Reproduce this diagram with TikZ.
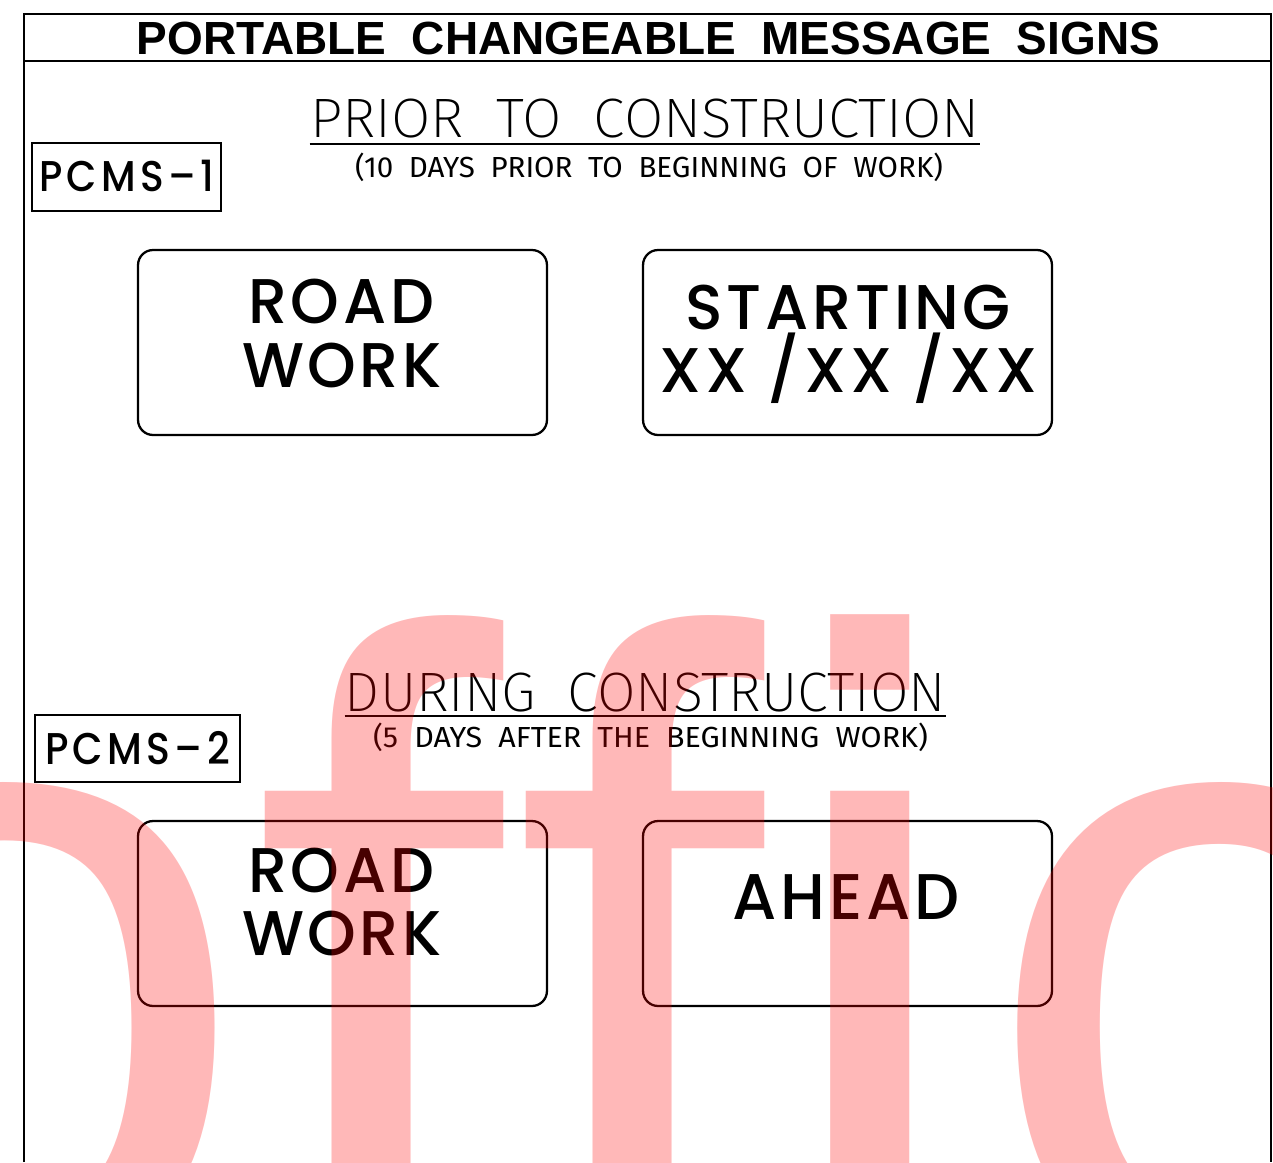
\documentclass[tikz,border=0pt]{standalone}
\usepackage{fontspec}
\usepackage{graphicx}
\usetikzlibrary{positioning}
\setmainfont{Liberation Sans}
\newfontfamily\titlefont{Liberation Sans}
\newfontfamily\stampfont{Liberation Sans}
\IfFontExistsTF{Poppins Medium}{\newfontfamily\signfont{Poppins Medium}[LetterSpace=6]}{\newfontfamily\signfont{Poppins}[LetterSpace=6]}
\IfFontExistsTF{Poppins Medium}{\newfontfamily\tagfont{Poppins Medium}[LetterSpace=11]}{\newfontfamily\tagfont{Poppins}[LetterSpace=11]}
\IfFontExistsTF{Fira Sans ExtraLight}{\newfontfamily\cadthin{Fira Sans ExtraLight}}{\newfontfamily\cadthin{Fira Sans}}
\newfontfamily\cadfont{Fira Sans}

% squeeze a line of capitals to a given width and cap height
\newcommand{\fitcaps}[3]{\resizebox{#1}{#2}{\raisebox{0pt}[\fontcharht\font`H][0pt]{#3}}}

\tikzstyle{frame} = [line width=1.3pt]
\tikzstyle{sign} = [rectangle, rounded corners=0.3cm, draw=black, line width=1.3pt, minimum width=8.18cm, minimum height=3.7cm, inner sep=0pt]
\tikzstyle{tag} = [rectangle, draw=black, line width=1.3pt, inner sep=0pt, font=\tagfont]
\tikzstyle{msg} = [inner sep=0pt, anchor=base, font=\signfont]
\tikzstyle{head} = [inner sep=0pt, anchor=base, font=\cadthin]
\tikzstyle{note} = [inner sep=0pt, anchor=base, font=\cadfont]
\tikzstyle{underline} = [line width=1.1pt]
\tikzstyle{stamp} = [inner sep=0pt, anchor=base west, text=red, text opacity=0.28, font=\stampfont\fontsize{512}{512}\selectfont]

\begin{document}
\begin{tikzpicture}[x=0.02cm, y=-0.02cm]
        \useasboundingbox (0,0) rectangle (1273,1162);

        % sheet frame and title bar
        \draw [frame] (24,1162) -- (24,14) -- (1271,14) -- (1271,1162);
        \draw [frame] (24,61) -- (1271,61);
        \node (title) [msg, font=\titlefont\bfseries] at (648.5,55) {\fitcaps{20.46cm}{0.64cm}{PORTABLE\ \ CHANGEABLE\ \ MESSAGE\ \ SIGNS}};

        % PCMS-1
        \node (priorhead) [head] at (645,138) {\fitcaps{13.4cm}{0.76cm}{PRIOR\ \ TO\ \ CONSTRUCTION}};
        \draw [underline] ([yshift=-0.12cm]priorhead.south west) -- ([yshift=-0.12cm]priorhead.south east);
        \node (priorsub) [note] at (649,177) {\fitcaps{11.76cm}{0.4cm}{(10\ \ DAYS\ \ PRIOR\ \ TO\ \ BEGINNING\ \ OF\ \ WORK)}};
        \node (pcmsone) [tag, minimum width=3.78cm, minimum height=1.36cm] at (126.5,177) {\fitcaps{3.5cm}{0.6cm}{PCMS–1}};

        \node (roadbox) [sign] at (342.5,342.5) {};
        \node (startbox) [sign] at (847.5,342.5) {};
        \node (roadtop) [msg] at (341,323) {\fitcaps{3.72cm}{0.88cm}{ROAD}};
        \node (roadbot) [msg] at (342,387) {\fitcaps{4.0cm}{0.88cm}{WORK}};
        \node (starttop) [msg] at (848,329) {\fitcaps{6.5cm}{0.88cm}{STARTING}};
        \node (startbot) [msg] at (848.5,392) {\fitcaps{7.56cm}{0.88cm}{XX /XX /XX}};

        % PCMS-2
        \node (duringhead) [head] at (645.5,711) {\fitcaps{12.02cm}{0.76cm}{DURING\ \ CONSTRUCTION}};
        \draw [underline] ([yshift=-0.1cm]duringhead.south west) -- ([yshift=-0.1cm]duringhead.south east);
        \node (duringsub) [note] at (650.5,747) {\fitcaps{11.1cm}{0.4cm}{(5\ \ DAYS\ \ AFTER\ \ THE\ \ BEGINNING\ \ WORK)}};
        \node (pcmstwo) [tag, minimum width=4.1cm, minimum height=1.34cm] at (137.5,748.5) {\fitcaps{3.7cm}{0.62cm}{PCMS–2}};

        \node (roadboxtwo) [sign] at (342.5,913.5) {};
        \node (aheadbox) [sign] at (847.5,913.5) {};
        \node (roadtoptwo) [msg] at (341,892) {\fitcaps{3.72cm}{0.88cm}{ROAD}};
        \node (roadbottwo) [msg] at (342,955) {\fitcaps{4.0cm}{0.88cm}{WORK}};
        \node (aheadtext) [msg] at (846,919) {\fitcaps{4.54cm}{0.9cm}{AHEAD}};

        % watermark over the sheet
        \begin{scope}
        \clip (0,0) rectangle (1273,1162);
        \node (stampword) [stamp] at (-248,1266) {o\kern0cm f\kern0.22cm f\kern0.14cm i\kern0.18cm c};
        \end{scope}

\end{tikzpicture}
\end{document}
